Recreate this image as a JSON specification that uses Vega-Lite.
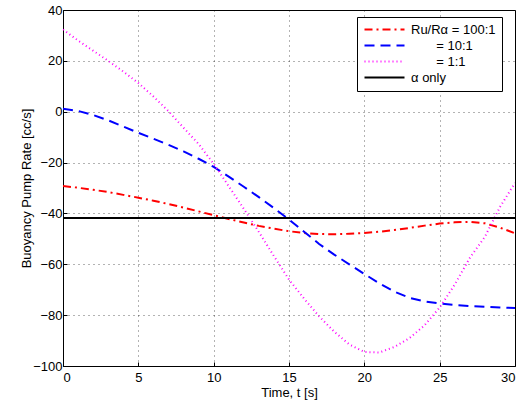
{
  "$schema": "https://vega.github.io/schema/vega-lite/v6.json",
  "width": 452,
  "height": 356,
  "autosize": {"type": "none"},
  "padding": {"left": 63, "top": 10, "right": 9, "bottom": 40},
  "background": "white",
  "config": {
    "font": "Liberation Sans",
    "view": {"stroke": "black", "strokeWidth": 1},
    "legend": {"fillColor": "white", "strokeColor": "black", "strokeWidth": 1},
    "axis": {
      "domain": false,
      "ticks": true,
      "tickSize": -4,
      "tickColor": "#000000",
      "grid": true,
      "gridColor": "#000000",
      "gridDash": [1, 4],
      "gridOpacity": 0.6,
      "gridWidth": 1,
      "labelFont": "Liberation Sans",
      "labelFontSize": 13,
      "labelColor": "#000000",
      "titleFont": "Liberation Sans",
      "titleFontSize": 13,
      "titleFontWeight": "normal",
      "titleColor": "#000000"
    }
  },
  "data": {
    "values": [
      {"series": "Ru/Rα = 100:1", "t": 0, "v": -29.2},
      {"series": "Ru/Rα = 100:1", "t": 1, "v": -29.9},
      {"series": "Ru/Rα = 100:1", "t": 2, "v": -30.7},
      {"series": "Ru/Rα = 100:1", "t": 3, "v": -31.6},
      {"series": "Ru/Rα = 100:1", "t": 4, "v": -32.7},
      {"series": "Ru/Rα = 100:1", "t": 5, "v": -33.8},
      {"series": "Ru/Rα = 100:1", "t": 6, "v": -35.0},
      {"series": "Ru/Rα = 100:1", "t": 7, "v": -36.3},
      {"series": "Ru/Rα = 100:1", "t": 8, "v": -37.7},
      {"series": "Ru/Rα = 100:1", "t": 9, "v": -39.2},
      {"series": "Ru/Rα = 100:1", "t": 10, "v": -40.7},
      {"series": "Ru/Rα = 100:1", "t": 11, "v": -42.2},
      {"series": "Ru/Rα = 100:1", "t": 12, "v": -43.6},
      {"series": "Ru/Rα = 100:1", "t": 13, "v": -44.9},
      {"series": "Ru/Rα = 100:1", "t": 14, "v": -46.0},
      {"series": "Ru/Rα = 100:1", "t": 15, "v": -47.0},
      {"series": "Ru/Rα = 100:1", "t": 16, "v": -47.7},
      {"series": "Ru/Rα = 100:1", "t": 17, "v": -48.1},
      {"series": "Ru/Rα = 100:1", "t": 18, "v": -48.2},
      {"series": "Ru/Rα = 100:1", "t": 19, "v": -48.0},
      {"series": "Ru/Rα = 100:1", "t": 20, "v": -47.7},
      {"series": "Ru/Rα = 100:1", "t": 21, "v": -47.2},
      {"series": "Ru/Rα = 100:1", "t": 22, "v": -46.5},
      {"series": "Ru/Rα = 100:1", "t": 23, "v": -45.7},
      {"series": "Ru/Rα = 100:1", "t": 24, "v": -44.8},
      {"series": "Ru/Rα = 100:1", "t": 25, "v": -44.0},
      {"series": "Ru/Rα = 100:1", "t": 26, "v": -43.5},
      {"series": "Ru/Rα = 100:1", "t": 27, "v": -43.3},
      {"series": "Ru/Rα = 100:1", "t": 28, "v": -43.9},
      {"series": "Ru/Rα = 100:1", "t": 29, "v": -45.6},
      {"series": "Ru/Rα = 100:1", "t": 30, "v": -47.8},

      {"series": "\u200b\u00a0\u00a0\u00a0\u00a0\u00a0\u00a0\u00a0= 10:1", "t": 0, "v": 1.2},
      {"series": "\u200b\u00a0\u00a0\u00a0\u00a0\u00a0\u00a0\u00a0= 10:1", "t": 1, "v": 0.3},
      {"series": "\u200b\u00a0\u00a0\u00a0\u00a0\u00a0\u00a0\u00a0= 10:1", "t": 2, "v": -1.3},
      {"series": "\u200b\u00a0\u00a0\u00a0\u00a0\u00a0\u00a0\u00a0= 10:1", "t": 3, "v": -3.4},
      {"series": "\u200b\u00a0\u00a0\u00a0\u00a0\u00a0\u00a0\u00a0= 10:1", "t": 4, "v": -5.8},
      {"series": "\u200b\u00a0\u00a0\u00a0\u00a0\u00a0\u00a0\u00a0= 10:1", "t": 5, "v": -8.3},
      {"series": "\u200b\u00a0\u00a0\u00a0\u00a0\u00a0\u00a0\u00a0= 10:1", "t": 6, "v": -10.6},
      {"series": "\u200b\u00a0\u00a0\u00a0\u00a0\u00a0\u00a0\u00a0= 10:1", "t": 7, "v": -13.0},
      {"series": "\u200b\u00a0\u00a0\u00a0\u00a0\u00a0\u00a0\u00a0= 10:1", "t": 8, "v": -15.6},
      {"series": "\u200b\u00a0\u00a0\u00a0\u00a0\u00a0\u00a0\u00a0= 10:1", "t": 9, "v": -18.5},
      {"series": "\u200b\u00a0\u00a0\u00a0\u00a0\u00a0\u00a0\u00a0= 10:1", "t": 10, "v": -21.7},
      {"series": "\u200b\u00a0\u00a0\u00a0\u00a0\u00a0\u00a0\u00a0= 10:1", "t": 11, "v": -25.5},
      {"series": "\u200b\u00a0\u00a0\u00a0\u00a0\u00a0\u00a0\u00a0= 10:1", "t": 12, "v": -29.5},
      {"series": "\u200b\u00a0\u00a0\u00a0\u00a0\u00a0\u00a0\u00a0= 10:1", "t": 13, "v": -33.6},
      {"series": "\u200b\u00a0\u00a0\u00a0\u00a0\u00a0\u00a0\u00a0= 10:1", "t": 14, "v": -37.9},
      {"series": "\u200b\u00a0\u00a0\u00a0\u00a0\u00a0\u00a0\u00a0= 10:1", "t": 15, "v": -42.4},
      {"series": "\u200b\u00a0\u00a0\u00a0\u00a0\u00a0\u00a0\u00a0= 10:1", "t": 16, "v": -47.2},
      {"series": "\u200b\u00a0\u00a0\u00a0\u00a0\u00a0\u00a0\u00a0= 10:1", "t": 17, "v": -52.0},
      {"series": "\u200b\u00a0\u00a0\u00a0\u00a0\u00a0\u00a0\u00a0= 10:1", "t": 18, "v": -56.2},
      {"series": "\u200b\u00a0\u00a0\u00a0\u00a0\u00a0\u00a0\u00a0= 10:1", "t": 19, "v": -60.0},
      {"series": "\u200b\u00a0\u00a0\u00a0\u00a0\u00a0\u00a0\u00a0= 10:1", "t": 20, "v": -63.8},
      {"series": "\u200b\u00a0\u00a0\u00a0\u00a0\u00a0\u00a0\u00a0= 10:1", "t": 21, "v": -67.5},
      {"series": "\u200b\u00a0\u00a0\u00a0\u00a0\u00a0\u00a0\u00a0= 10:1", "t": 22, "v": -70.8},
      {"series": "\u200b\u00a0\u00a0\u00a0\u00a0\u00a0\u00a0\u00a0= 10:1", "t": 23, "v": -73.2},
      {"series": "\u200b\u00a0\u00a0\u00a0\u00a0\u00a0\u00a0\u00a0= 10:1", "t": 24, "v": -74.6},
      {"series": "\u200b\u00a0\u00a0\u00a0\u00a0\u00a0\u00a0\u00a0= 10:1", "t": 25, "v": -75.4},
      {"series": "\u200b\u00a0\u00a0\u00a0\u00a0\u00a0\u00a0\u00a0= 10:1", "t": 26, "v": -76.0},
      {"series": "\u200b\u00a0\u00a0\u00a0\u00a0\u00a0\u00a0\u00a0= 10:1", "t": 27, "v": -76.4},
      {"series": "\u200b\u00a0\u00a0\u00a0\u00a0\u00a0\u00a0\u00a0= 10:1", "t": 28, "v": -76.7},
      {"series": "\u200b\u00a0\u00a0\u00a0\u00a0\u00a0\u00a0\u00a0= 10:1", "t": 29, "v": -77.0},
      {"series": "\u200b\u00a0\u00a0\u00a0\u00a0\u00a0\u00a0\u00a0= 10:1", "t": 30, "v": -77.2},

      {"series": "\u200b\u00a0\u00a0\u00a0\u00a0\u00a0\u00a0\u00a0= 1:1", "t": 0, "v": 32.3},
      {"series": "\u200b\u00a0\u00a0\u00a0\u00a0\u00a0\u00a0\u00a0= 1:1", "t": 1, "v": 28.0},
      {"series": "\u200b\u00a0\u00a0\u00a0\u00a0\u00a0\u00a0\u00a0= 1:1", "t": 2, "v": 24.0},
      {"series": "\u200b\u00a0\u00a0\u00a0\u00a0\u00a0\u00a0\u00a0= 1:1", "t": 3, "v": 20.0},
      {"series": "\u200b\u00a0\u00a0\u00a0\u00a0\u00a0\u00a0\u00a0= 1:1", "t": 4, "v": 15.8},
      {"series": "\u200b\u00a0\u00a0\u00a0\u00a0\u00a0\u00a0\u00a0= 1:1", "t": 5, "v": 11.3},
      {"series": "\u200b\u00a0\u00a0\u00a0\u00a0\u00a0\u00a0\u00a0= 1:1", "t": 6, "v": 6.0},
      {"series": "\u200b\u00a0\u00a0\u00a0\u00a0\u00a0\u00a0\u00a0= 1:1", "t": 7, "v": 0.2},
      {"series": "\u200b\u00a0\u00a0\u00a0\u00a0\u00a0\u00a0\u00a0= 1:1", "t": 8, "v": -6.3},
      {"series": "\u200b\u00a0\u00a0\u00a0\u00a0\u00a0\u00a0\u00a0= 1:1", "t": 9, "v": -12.7},
      {"series": "\u200b\u00a0\u00a0\u00a0\u00a0\u00a0\u00a0\u00a0= 1:1", "t": 10, "v": -20.5},
      {"series": "\u200b\u00a0\u00a0\u00a0\u00a0\u00a0\u00a0\u00a0= 1:1", "t": 11, "v": -29.3},
      {"series": "\u200b\u00a0\u00a0\u00a0\u00a0\u00a0\u00a0\u00a0= 1:1", "t": 12, "v": -38.2},
      {"series": "\u200b\u00a0\u00a0\u00a0\u00a0\u00a0\u00a0\u00a0= 1:1", "t": 13, "v": -47.3},
      {"series": "\u200b\u00a0\u00a0\u00a0\u00a0\u00a0\u00a0\u00a0= 1:1", "t": 14, "v": -56.8},
      {"series": "\u200b\u00a0\u00a0\u00a0\u00a0\u00a0\u00a0\u00a0= 1:1", "t": 15, "v": -66.0},
      {"series": "\u200b\u00a0\u00a0\u00a0\u00a0\u00a0\u00a0\u00a0= 1:1", "t": 16, "v": -73.5},
      {"series": "\u200b\u00a0\u00a0\u00a0\u00a0\u00a0\u00a0\u00a0= 1:1", "t": 17, "v": -80.5},
      {"series": "\u200b\u00a0\u00a0\u00a0\u00a0\u00a0\u00a0\u00a0= 1:1", "t": 18, "v": -86.5},
      {"series": "\u200b\u00a0\u00a0\u00a0\u00a0\u00a0\u00a0\u00a0= 1:1", "t": 19, "v": -91.5},
      {"series": "\u200b\u00a0\u00a0\u00a0\u00a0\u00a0\u00a0\u00a0= 1:1", "t": 20, "v": -94.5},
      {"series": "\u200b\u00a0\u00a0\u00a0\u00a0\u00a0\u00a0\u00a0= 1:1", "t": 21, "v": -94.7},
      {"series": "\u200b\u00a0\u00a0\u00a0\u00a0\u00a0\u00a0\u00a0= 1:1", "t": 22, "v": -92.5},
      {"series": "\u200b\u00a0\u00a0\u00a0\u00a0\u00a0\u00a0\u00a0= 1:1", "t": 23, "v": -89.0},
      {"series": "\u200b\u00a0\u00a0\u00a0\u00a0\u00a0\u00a0\u00a0= 1:1", "t": 24, "v": -84.0},
      {"series": "\u200b\u00a0\u00a0\u00a0\u00a0\u00a0\u00a0\u00a0= 1:1", "t": 25, "v": -77.0},
      {"series": "\u200b\u00a0\u00a0\u00a0\u00a0\u00a0\u00a0\u00a0= 1:1", "t": 26, "v": -68.0},
      {"series": "\u200b\u00a0\u00a0\u00a0\u00a0\u00a0\u00a0\u00a0= 1:1", "t": 27, "v": -57.5},
      {"series": "\u200b\u00a0\u00a0\u00a0\u00a0\u00a0\u00a0\u00a0= 1:1", "t": 28, "v": -49.2},
      {"series": "\u200b\u00a0\u00a0\u00a0\u00a0\u00a0\u00a0\u00a0= 1:1", "t": 29, "v": -37.5},
      {"series": "\u200b\u00a0\u00a0\u00a0\u00a0\u00a0\u00a0\u00a0= 1:1", "t": 30, "v": -28.0},

      {"series": "α only", "t": 0, "v": -41.8},
      {"series": "α only", "t": 30, "v": -41.8}
    ]
  },
  "mark": {"type": "line", "clip": true},
  "encoding": {
    "x": {
      "field": "t",
      "type": "quantitative",
      "scale": {"domain": [0, 30], "nice": false},
      "axis": {"values": [0, 5, 10, 15, 20, 25, 30], "title": "Time, t [s]", "labelPadding": 9, "titleY": 26, "titleBaseline": "middle"}
    },
    "y": {
      "field": "v",
      "type": "quantitative",
      "scale": {"domain": [-100, 40], "nice": false},
      "axis": {"values": [-100, -80, -60, -40, -20, 0, 20, 40], "title": "Buoyancy Pump Rate [cc/s]", "labelPadding": 5, "titleX": -37, "titleY": 178, "titleAngle": -90, "titleBaseline": "middle", "titleAlign": "center"}
    },
    "color": {
      "field": "series",
      "type": "nominal",
      "scale": {
        "domain": ["Ru/Rα = 100:1", "\u200b\u00a0\u00a0\u00a0\u00a0\u00a0\u00a0\u00a0= 10:1", "\u200b\u00a0\u00a0\u00a0\u00a0\u00a0\u00a0\u00a0= 1:1", "α only"],
        "range": ["#ff0000", "#0000ff", "#ff00ff", "#000000"]
      },
      "legend": {
        "title": null,
        "orient": "none",
        "legendX": 294,
        "legendY": 7,
        "fillColor": "white",
        "strokeColor": "black",
        "padding": 6,
        "labelFontSize": 13,
        "labelFont": "Liberation Sans",
        "labelColor": "black",
        "symbolOffset": 15,
        "labelOffset": 20,
        "symbolType": "M-4,0H4",
        "symbolSize": 100,
        "symbolStrokeWidth": 2,
        "rowPadding": 2
      }
    },
    "strokeDash": {
      "field": "series",
      "type": "nominal",
      "scale": {
        "domain": ["Ru/Rα = 100:1", "\u200b\u00a0\u00a0\u00a0\u00a0\u00a0\u00a0\u00a0= 10:1", "\u200b\u00a0\u00a0\u00a0\u00a0\u00a0\u00a0\u00a0= 1:1", "α only"],
        "range": [[8, 4, 2, 4], [10, 6], [1, 3], [1, 0]]
      },
      "legend": null
    },
    "strokeWidth": {
      "field": "series",
      "type": "nominal",
      "scale": {
        "domain": ["Ru/Rα = 100:1", "\u200b\u00a0\u00a0\u00a0\u00a0\u00a0\u00a0\u00a0= 10:1", "\u200b\u00a0\u00a0\u00a0\u00a0\u00a0\u00a0\u00a0= 1:1", "α only"],
        "range": [2, 2, 1.2, 2]
      },
      "legend": null
    }
  }
}
